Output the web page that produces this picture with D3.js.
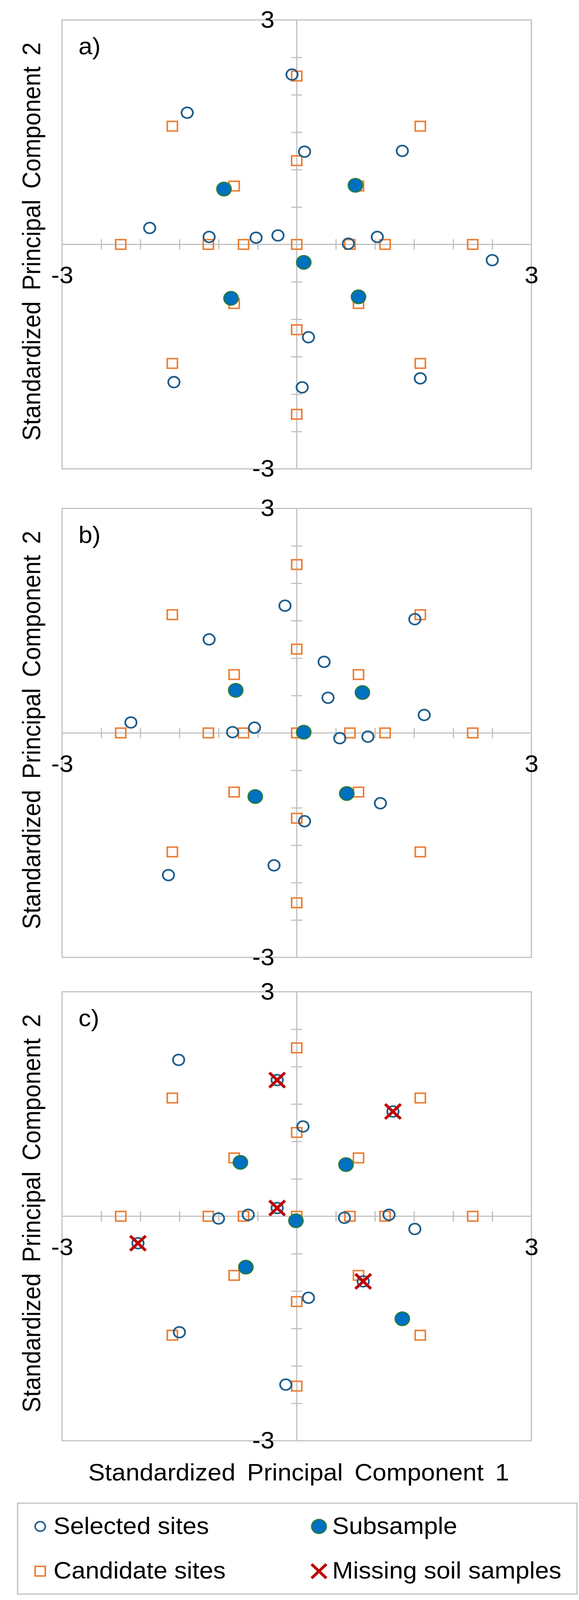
<!DOCTYPE html>
<html>
<head>
<meta charset="utf-8">
<title>PCA sites</title>
<script src="https://cdn.jsdelivr.net/npm/d3@7"></script>
<style>
	body, html{
		margin: 0;
		padding: 0;
		background: #fff;
		overflow: hidden;
	}
	svg{
		display: block;
	}
	svg text{
		font-family: "Liberation Sans", Arial, sans-serif;
	}
</style>
</head>
<body>
<div id="chart"></div>
<script>
	// candidate sites are the same in every panel
	var candX = [-2.25, -1.13, -0.68, 0, 0.68, 1.13, 2.25, 0, 0, 0, 0, -1.59, 1.58, -1.59, 1.58, -0.80, 0.79, -0.80, 0.79];
	var candY = [0, 0, 0, 0, 0, 0, 0, 2.25, 1.12, -1.14, -2.27, 1.58, 1.58, -1.59, -1.59, 0.78, 0.78, -0.79, -0.79];

	// a)
	var selAX = [-0.06, -1.40, 0.10, 1.35, -1.88, -1.12, -0.52, -0.24, 0.66, 1.03, 2.50, 0.15, -1.57, 0.07, 1.58];
	var selAY = [2.27, 1.76, 1.24, 1.25, 0.22, 0.10, 0.09, 0.12, 0.01, 0.10, -0.21, -1.24, -1.84, -1.91, -1.79];
	var subAX = [-0.93, 0.75, 0.09, -0.84, 0.79];
	var subAY = [0.74, 0.79, -0.24, -0.72, -0.70];

	// b)
	var selBX = [-0.15, 1.51, -1.12, 0.35, 0.40, 1.63, -2.12, -0.54, -0.82, 0.55, 0.91, 1.07, 0.10, -0.29, -1.64];
	var selBY = [1.70, 1.52, 1.25, 0.95, 0.47, 0.24, 0.14, 0.07, 0.01, -0.07, -0.05, -0.94, -1.18, -1.77, -1.90];
	var subBX = [-0.78, 0.84, 0.09, -0.53, 0.64];
	var subBY = [0.57, 0.54, 0.01, -0.85, -0.81];

	// c)
	var selCX = [-1.51, -0.25, 1.23, 0.08, -0.25, -0.62, -1.00, 0.61, 1.18, 1.51, -2.03, 0.85, 0.15, -1.50, -0.14];
	var selCY = [2.09, 1.82, 1.40, 1.20, 0.11, 0.02, -0.03, -0.02, 0.02, -0.17, -0.36, -0.87, -1.09, -1.55, -2.25];
	var subCX = [-0.72, 0.63, -0.01, -0.65, 1.35];
	var subCY = [0.72, 0.69, -0.06, -0.68, -1.37];
	var missCX = [-0.25, 1.23, -0.25, -2.03, 0.85];
	var missCY = [1.82, 1.40, 0.11, -0.36, -0.87];

	var panelLetters = ["a)", "b)", "c)"];
	var minorTicks = [-2.5, -2, -1.5, -1, -0.5, 0.5, 1, 1.5, 2, 2.5];
	var labelTicks = [-3, 3];
	var tickLabels = ["-3", "3"];
	var legendNames = ["Selected sites", "Subsample", "Candidate sites", "Missing soil samples"];

	var W = 1483, H = 4330,
		plotLeft = 159, plotW = 1202, plotH = 1215,
		panelTops = [54, 1376, 2684],
		grey = "#bfbfbf",
		blueLine = "#1f5e8c",
		orange = "#ed7d31",
		fillBlue = "#0070c0",
		green = "#2e7d32",
		red = "#c00000",
		fontSize = 64;

	var panels = [
		{sx: selAX, sy: selAY, ux: subAX, uy: subAY, mx: [], my: []},
		{sx: selBX, sy: selBY, ux: subBX, uy: subBY, mx: [], my: []},
		{sx: selCX, sy: selCY, ux: subCX, uy: subCY, mx: missCX, my: missCY}
	];

	// the window may be shorter than the drawing, so the viewBox squeezes it to fit
	var viewH = Math.min(H, window.innerHeight || H);
	var svg = d3.select("#chart").append("svg")
		.attr("width", W).attr("height", viewH)
		.attr("viewBox", "0 0 " + W + " " + H)
		.attr("preserveAspectRatio", "none");
	svg.append("rect").attr("width", W).attr("height", H).attr("fill", "#fff");

	var x = d3.scaleLinear().domain([-3, 3]).range([0, plotW]);
	var y = d3.scaleLinear().domain([-3, 3]).range([plotH, 0]);

	function zip(xs, ys){
		return xs.map(function(v, i){ return [v, ys[i]]; });
	}

	function drawSquares(g, pts, s){
		g.selectAll(null).data(pts).enter().append("rect")
			.attr("x", function(d){ return x(d[0]) - s / 2; })
			.attr("y", function(d){ return y(d[1]) - s / 2; })
			.attr("width", s).attr("height", s)
			.attr("fill", "none").attr("stroke", orange).attr("stroke-width", 4);
	}
	function drawOpen(g, pts){
		g.selectAll(null).data(pts).enter().append("circle")
			.attr("cx", function(d){ return x(d[0]); })
			.attr("cy", function(d){ return y(d[1]); })
			.attr("r", 14.5)
			.attr("fill", "none").attr("stroke", blueLine).attr("stroke-width", 4.5);
	}
	function drawFilled(g, pts){
		g.selectAll(null).data(pts).enter().append("circle")
			.attr("cx", function(d){ return x(d[0]); })
			.attr("cy", function(d){ return y(d[1]); })
			.attr("r", 18.5)
			.attr("fill", fillBlue).attr("stroke", green).attr("stroke-width", 3);
	}
	function drawCross(g, pts){
		var h = 20;
		var c = g.selectAll(null).data(pts).enter().append("g")
			.attr("transform", function(d){ return "translate(" + x(d[0]) + "," + y(d[1]) + ")"; });
		c.append("line").attr("x1", -h).attr("y1", -h).attr("x2", h).attr("y2", h);
		c.append("line").attr("x1", -h).attr("y1", h).attr("x2", h).attr("y2", -h);
		c.selectAll("line").attr("stroke", red).attr("stroke-width", 7.5);
	}

	panels.forEach(function(p, i){
		var g = svg.append("g").attr("transform", "translate(" + plotLeft + "," + panelTops[i] + ")");

		g.append("rect").attr("width", plotW).attr("height", plotH)
			.attr("fill", "none").attr("stroke", grey).attr("stroke-width", 3);

		// cross ticks
		var xt = g.append("g").attr("transform", "translate(0," + y(0) + ")")
			.call(d3.axisBottom(x).tickValues(minorTicks).tickSize(14).tickFormat(""));
		xt.select(".domain").remove();
		xt.selectAll("line").attr("y1", -14).attr("stroke", grey).attr("stroke-width", 3);

		var yt = g.append("g").attr("transform", "translate(" + x(0) + ",0)")
			.call(d3.axisLeft(y).tickValues(minorTicks).tickSize(14).tickFormat(""));
		yt.select(".domain").remove();
		yt.selectAll("line").attr("x1", 14).attr("stroke", grey).attr("stroke-width", 3);

		g.append("line").attr("x1", 0).attr("x2", plotW).attr("y1", y(0)).attr("y2", y(0))
			.attr("stroke", grey).attr("stroke-width", 3);
		g.append("line").attr("x1", x(0)).attr("x2", x(0)).attr("y1", 0).attr("y2", plotH)
			.attr("stroke", grey).attr("stroke-width", 3);

		// -3 / 3 labels
		var xl = g.append("g").attr("transform", "translate(0," + y(0) + ")")
			.call(d3.axisBottom(x).tickValues(labelTicks).tickSize(0).tickPadding(60)
				.tickFormat(function(d, k){ return tickLabels[k]; }));
		xl.select(".domain").remove();
		var yl = g.append("g").attr("transform", "translate(" + x(0) + ",0)")
			.call(d3.axisLeft(y).tickValues(labelTicks).tickSize(0).tickPadding(57)
				.tickFormat(function(d, k){ return tickLabels[k]; }));
		yl.select(".domain").remove();
		[xl, yl].forEach(function(a){
			a.attr("font-size", fontSize).attr("font-family", null).attr("color", "#000");
		});

		g.append("text").attr("x", 42).attr("y", 93)
			.attr("font-size", fontSize).text(panelLetters[i]);

		svg.append("text")
			.attr("transform", "translate(103," + (panelTops[i] + plotH / 2 - 8) + ") rotate(-90)")
			.attr("text-anchor", "middle").attr("font-size", fontSize)
			.style("word-spacing", "12px")
			.text("Standardized Principal Component 2");

		drawSquares(g, zip(candX, candY), 26);
		drawOpen(g, zip(p.sx, p.sy));
		drawFilled(g, zip(p.ux, p.uy));
		drawCross(g, zip(p.mx, p.my));
	});

	svg.append("text").attr("x", 765).attr("y", 4007)
		.attr("text-anchor", "middle").attr("font-size", fontSize)
		.style("word-spacing", "12px")
		.text("Standardized Principal Component 1");

	// legend
	var leg = svg.append("g");
	leg.append("rect").attr("x", 45).attr("y", 4068).attr("width", 1433).attr("height", 246)
		.attr("fill", "#fff").attr("stroke", grey).attr("stroke-width", 3);
	var legPos = [[103, 4131], [817, 4131], [103, 4252], [817, 4252]];
	legPos.forEach(function(pos, k){
		var m = leg.append("g").attr("transform", "translate(" + pos[0] + "," + pos[1] + ")");
		if (k == 0){
			m.append("circle").attr("r", 13).attr("fill", "none").attr("stroke", blueLine).attr("stroke-width", 4);
		} else if (k == 1){
			m.append("circle").attr("r", 19).attr("fill", fillBlue).attr("stroke", green).attr("stroke-width", 3);
		} else if (k == 2){
			m.append("rect").attr("x", -13).attr("y", -13).attr("width", 26).attr("height", 26)
				.attr("fill", "none").attr("stroke", orange).attr("stroke-width", 4);
		} else {
			m.append("line").attr("x1", -19).attr("y1", -19).attr("x2", 19).attr("y2", 19);
			m.append("line").attr("x1", -19).attr("y1", 19).attr("x2", 19).attr("y2", -19);
			m.selectAll("line").attr("stroke", red).attr("stroke-width", 7.5);
		}
		leg.append("text").attr("x", pos[0] + 34).attr("y", pos[1] + 20)
			.attr("font-size", fontSize).text(legendNames[k]);
	});
</script>
</body>
</html>
